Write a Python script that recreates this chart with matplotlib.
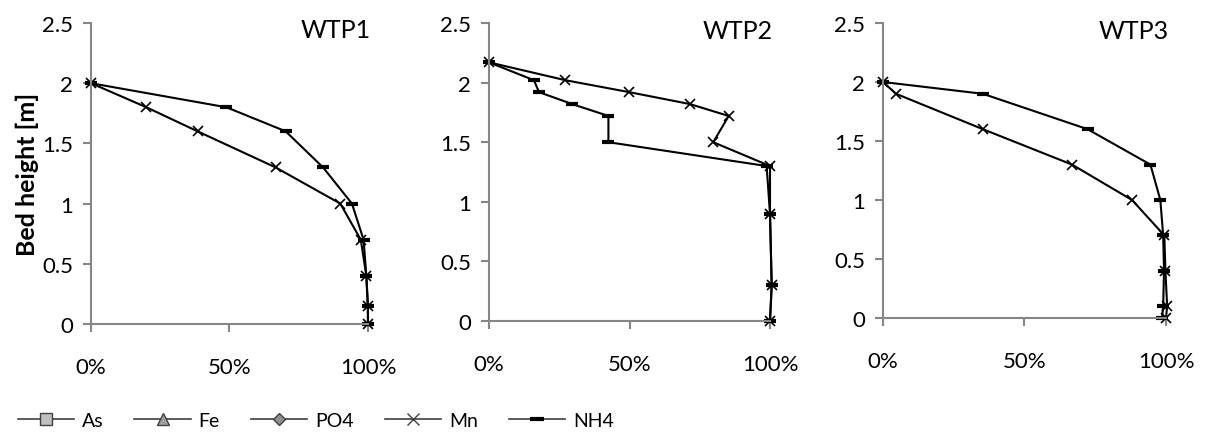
import numpy as np
import matplotlib
matplotlib.use("Agg")
import matplotlib.pyplot as plt
from matplotlib.lines import Line2D
from matplotlib.ticker import PercentFormatter

plt.rcParams['font.family'] = ['Lato', 'DejaVu Sans']

# bed height [m] and removal fraction
wtp1_h_mn = [2.0, 1.8, 1.6, 1.3, 1.0, 0.7, 0.4, 0.15, 0.0]
wtp1_mn = [0.0, 0.20, 0.385, 0.667, 0.90, 0.974, 0.994, 1.0, 1.0]
wtp1_h_nh4 = [2.0, 1.8, 1.6, 1.3, 1.0, 0.7, 0.4, 0.15, 0.0]
wtp1_nh4 = [0.0, 0.489, 0.703, 0.838, 0.942, 0.984, 0.994, 0.999, 1.0]

wtp2_h_mn = [2.17, 2.02, 1.92, 1.82, 1.72, 1.5, 1.3, 0.9, 0.3, 0.0]
wtp2_mn = [0.0, 0.272, 0.499, 0.715, 0.853, 0.798, 1.0, 1.0, 1.006, 1.0]
wtp2_h_nh4 = [2.17, 2.02, 1.92, 1.82, 1.72, 1.5, 1.3, 0.9, 0.3, 0.0]
wtp2_nh4 = [0.0, 0.160, 0.178, 0.296, 0.425, 0.425, 0.988, 1.0, 1.006, 1.0]

wtp3_h_mn = [2.0, 1.9, 1.6, 1.3, 1.0, 0.7, 0.4, 0.1, 0.0]
wtp3_mn = [0.0, 0.046, 0.353, 0.668, 0.88, 0.994, 0.998, 1.004, 1.0]
wtp3_h_nh4 = [2.0, 1.9, 1.6, 1.3, 1.0, 0.7, 0.4, 0.1, 0.0]
wtp3_nh4 = [0.0, 0.353, 0.723, 0.945, 0.98, 0.99, 0.993, 0.99, 0.986]

titles = ["WTP1", "WTP2", "WTP3"]
mn_data = [(wtp1_mn, wtp1_h_mn), (wtp2_mn, wtp2_h_mn), (wtp3_mn, wtp3_h_mn)]
nh4_data = [(wtp1_nh4, wtp1_h_nh4), (wtp2_nh4, wtp2_h_nh4), (wtp3_nh4, wtp3_h_nh4)]

W, H = 1205, 439
fig = plt.figure(figsize=(W / 100, H / 100), dpi=100)

# axes boxes in pixels: left, right, top, bottom
boxes = [(91, 368, 24, 325), (489, 770, 24, 322), (883, 1166, 24, 319)]
gray = "#868686"

for i, (l, r, t, b) in enumerate(boxes):
    ax = fig.add_axes([l / W, 1 - b / H, (r - l) / W, (b - t) / H])
    x, y = mn_data[i]
    ax.plot(x, y, color="black", lw=1.5, marker="x", ms=7, mew=1.2, clip_on=False)
    x, y = nh4_data[i]
    ax.plot(x, y, color="black", lw=1.5, marker="_", ms=9, mew=3, clip_on=False)
    ax.set_xlim(0, 1)
    ax.set_ylim(0, 2.5)
    ax.set_xticks([0, 0.5, 1])
    ax.set_yticks([0, 0.5, 1, 1.5, 2, 2.5])
    ax.set_yticklabels(["0", "0.5", "1", "1.5", "2", "2.5"])
    ax.xaxis.set_major_formatter(PercentFormatter(1.0, decimals=0))
    for s in ["top", "right"]:
        ax.spines[s].set_visible(False)
    for s in ["left", "bottom"]:
        ax.spines[s].set_color(gray)
        ax.spines[s].set_linewidth(1.5)
    ax.tick_params(direction="out", length=6, width=1.5, color=gray,
                   labelsize=16, pad=7)
    ax.tick_params(axis="x", pad=18)
    ax.text(1.01, 1.015, titles[i], transform=ax.transAxes, ha="right", va="top",
            fontsize=18)
    if i == 0:
        ax.set_ylabel("Bed height [m]", fontsize=18, fontweight="bold", labelpad=2)

handles = [
    Line2D([], [], color="#404040", lw=1.2, marker="s", ms=8, mfc="#c0c0c0", mec="#404040"),
    Line2D([], [], color="#404040", lw=1.2, marker="^", ms=8, mfc="#a0a0a0", mec="#404040"),
    Line2D([], [], color="#404040", lw=1.2, marker="D", ms=6, mfc="#909090", mec="#404040"),
    Line2D([], [], color="#404040", lw=1.2, marker="x", ms=8, mec="#404040"),
    Line2D([], [], color="#404040", lw=1.2, marker="_", ms=10, mew=3, mec="black"),
]
fig.legend(handles, ["As", "Fe", "PO4", "Mn", "NH4"], ncol=5, frameon=False,
           loc="lower left", bbox_to_anchor=(0.0, -0.02), fontsize=14,
           handlelength=2.9, columnspacing=1.6, handletextpad=0.4)

fig.savefig("out.png", dpi=100)
